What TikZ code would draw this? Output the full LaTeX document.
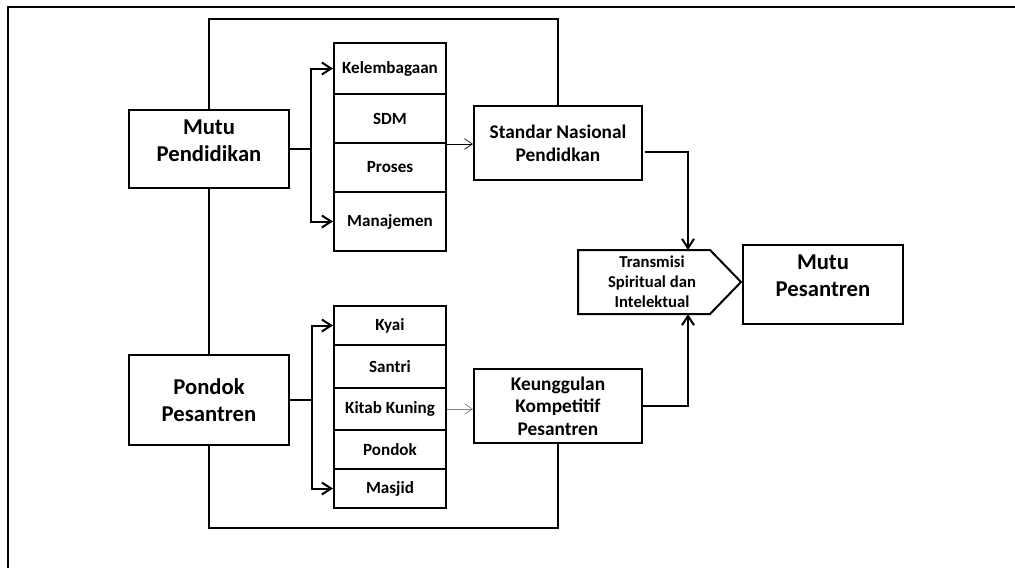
\documentclass[tikz,border=0pt]{standalone}
\usepackage{fontspec}
\setmainfont{Carlito}
\usetikzlibrary{arrows.meta,calc}
\tikzset{
  >={Straight Barb[length=7pt,width=9pt,line width=1.5pt]},
  box/.style={draw,line width=1.5pt,align=center,inner sep=2pt,font=\bfseries},
  big/.style={font=\fontsize{17pt}{20pt}\selectfont\bfseries},
  mid/.style={font=\fontsize{14.5pt}{17pt}\selectfont\bfseries},
  cell/.style={box,minimum width=112*0.75pt,font=\fontsize{12.8pt}{16pt}\selectfont\bfseries},
  thinarrow/.style={line width=0.5pt,-{Straight Barb[length=6pt,width=8pt]}}
}
\begin{document}
\begin{tikzpicture}[x=0.75pt,y=-0.75pt,line width=1.5pt]
\useasboundingbox (0,0) rectangle (1015,568);
% frame
\draw (8,568) -- (8,7) -- (1015,7);
% left boxes
\node[box,big,text depth=13pt,minimum width=160*0.75pt,minimum height=78*0.75pt] (mutuP) at (209,149) {Mutu\\Pendidikan};
\node[box,big,minimum width=160*0.75pt,minimum height=90*0.75pt] (pondokP) at (209,400) {Pondok\\Pesantren};
\draw (mutuP.south) -- (pondokP.north);
% upper stack
\foreach \lab/\yc/\h [count=\i] in {Kelembagaan/68.5/51,SDM/118.5/49,Proses/167.5/49,Manajemen/221.5/59}
  \node[cell,minimum height=\h*0.75pt] (k\i) at (390,\yc) {\lab};
% lower stack
\foreach \lab/\yc/\h [count=\i] in {Kyai/325.5/39,Santri/366.5/43,Kitab Kuning/409/42,Pondok/449.5/39,Masjid/488.5/39}
  \node[cell,minimum height=\h*0.75pt] (s\i) at (390,\yc) {\lab};
% branches
\coordinate (b1) at (311,149);
\coordinate (b2) at (312,400);
\draw (mutuP.east) -- (b1);
\draw[->] (b1) |- (k1.west);
\draw[->] (b1) |- (k4.west);
\draw (pondokP.east) -- (b2);
\draw[->] (b2) |- (s1.west);
\draw[->] (b2) |- (s5.west);
% middle boxes
\node[box,mid,minimum width=168*0.75pt,minimum height=74*0.75pt] (standar) at (558,143) {Standar Nasional\\Pendidkan};
\node[box,mid,minimum width=168*0.75pt,minimum height=74*0.75pt] (keung) at (558,406) {Keunggulan\\Kompetitif\\Pesantren};
\draw[thinarrow] (k2.south east) -- (k2.south east -| standar.west);
\draw[thinarrow,gray] (s3.east) -- (s3.east -| keung.west);
% outer loop
\coordinate (loopT) at (0,19);
\coordinate (loopB) at (0,528);
\draw (mutuP.north) |- (loopT -| standar.north) -- (standar.north);
\draw (pondokP.south) |- (loopB -| keung.south) -- (keung.south);
% transmisi
\node[minimum width=130*0.75pt,minimum height=62*0.75pt,inner sep=0pt] (transmisi) at (644,282) {};
\node[align=center,font=\fontsize{12.5pt}{15pt}\selectfont\bfseries] (transtext) at (652,282) {Transmisi\\Spiritual dan\\Intelektual};
\coordinate (tip) at ($(transmisi.east)+(31,0)$);
\draw (transmisi.north west) -- (transmisi.north east) -- (tip) -- (transmisi.south east) -- (transmisi.south west) -- cycle;
\draw[->] ($(standar.east)+(2,9)$) -| ($(transmisi.north)+(44,0)$);
\draw[->] (keung.east) -| ($(transmisi.south)+(44,0)$);
% result
\node[box,big,text depth=13pt,minimum width=160*0.75pt,minimum height=79*0.75pt] (mutuPes) at (823,284.5) {Mutu\\Pesantren};
\end{tikzpicture}
\end{document}
